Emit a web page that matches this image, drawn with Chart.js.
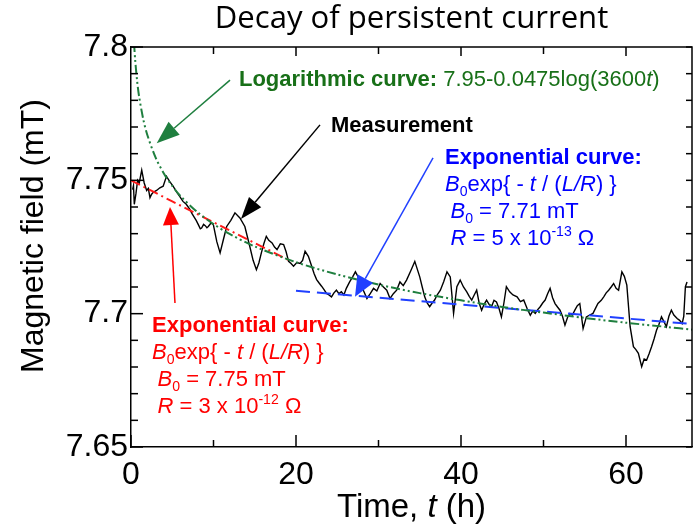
<!DOCTYPE html>
<html><head><meta charset="utf-8">
<script src="https://cdn.jsdelivr.net/npm/chart.js@4/dist/chart.umd.min.js"></script>
<style>html,body{margin:0;padding:0;background:#fff}canvas{display:block}</style>
</head><body>
<canvas id="c" width="693" height="526"></canvas>
<script>
// ---------- DATA ----------
const measTime = [0.2,0.3,0.4,0.6,0.8,1.0,1.3,1.6,1.9,2.1,2.3,2.5,2.7,3.1,3.5,3.9,4.3,4.7,5.1,5.5,5.9,6.3,6.7,7.15,7.4,7.6,7.9,8.16,8.4,8.56,8.8,9.0,9.2,9.37,9.7,9.98,10.4,10.8,11.2,11.6,12.1,12.6,13.2,13.8,14.4,14.8,15.2,15.5,15.8,16.1,16.4,16.7,17.1,17.4,17.7,18.1,18.5,18.8,19.1,19.4,19.7,20.1,20.5,20.8,21.1,21.5,21.9,22.2,22.5,22.8,23.1,23.4,23.7,24.0,24.3,24.6,24.9,25.2,25.5,25.8,26.1,26.5,26.9,27.2,27.5,27.8,28.2,28.6,29.0,29.4,29.8,30.2,30.6,31.0,31.4,31.8,32.2,32.6,33.0,33.4,33.9,34.4,35.0,35.3,35.6,35.9,36.2,36.5,36.8,37.1,37.5,37.9,38.3,38.7,39.1,39.5,39.9,40.3,40.7,41.0,41.3,41.6,41.9,42.2,42.5,42.8,43.1,43.4,43.7,44.0,44.3,44.6,44.9,45.2,45.5,45.9,46.3,46.8,47.2,47.6,48.0,48.4,48.7,49.0,49.3,49.6,49.9,50.2,50.5,50.8,51.1,51.4,51.7,52.0,52.3,52.6,52.9,53.2,53.5,53.8,54.1,54.4,54.8,55.2,55.6,56.0,56.3,56.6,57.0,57.3,57.6,57.9,58.2,58.5,58.8,59.1,59.5,59.8,60.1,60.5,60.9,61.2,61.5,61.9,62.2,62.5,62.8,63.1,63.4,63.7,64.0,64.3,64.6,64.9,65.2,65.5,65.8,66.2,66.5,66.8,67.0,67.2,67.4];
const measField = [7.7465,7.7480,7.7410,7.7450,7.7500,7.7490,7.7538,7.7490,7.7462,7.7470,7.7435,7.7448,7.7455,7.7462,7.7472,7.7478,7.7515,7.7495,7.7478,7.7458,7.7440,7.7421,7.7410,7.7390,7.7375,7.7365,7.7350,7.7334,7.7318,7.7321,7.7335,7.7330,7.7322,7.7327,7.7340,7.7334,7.7270,7.7228,7.7278,7.7327,7.7350,7.7378,7.7359,7.7327,7.7252,7.7200,7.7165,7.7190,7.7228,7.7262,7.7290,7.7275,7.7265,7.7250,7.7240,7.7262,7.7259,7.7232,7.7196,7.7188,7.7178,7.7192,7.7188,7.7200,7.7234,7.7215,7.7178,7.7150,7.7128,7.7115,7.7103,7.7090,7.7076,7.7070,7.7063,7.7078,7.7088,7.7075,7.7082,7.7070,7.7095,7.7119,7.7140,7.7157,7.7140,7.7126,7.7085,7.7057,7.7075,7.7095,7.7085,7.7113,7.7100,7.7088,7.7057,7.7075,7.7088,7.7119,7.7105,7.7126,7.7160,7.7196,7.7138,7.7100,7.7063,7.7040,7.7026,7.7040,7.7051,7.7070,7.7088,7.7120,7.7157,7.7138,7.7001,7.7101,7.7126,7.7100,7.7082,7.7065,7.7051,7.7070,7.7088,7.7040,7.7013,7.7035,7.7051,7.7035,7.7026,7.7050,7.7044,7.7020,7.6988,7.7040,7.7101,7.7082,7.7070,7.7063,7.7045,7.7051,7.7020,7.6994,7.7010,7.7001,7.7015,7.7026,7.7040,7.7051,7.7075,7.7095,7.7060,7.7038,7.7025,7.7013,7.6990,7.6957,7.6985,7.7001,7.6995,7.7013,7.7030,7.7038,7.6944,7.6988,7.6995,7.7001,7.7020,7.7038,7.7050,7.7063,7.7078,7.7088,7.7100,7.7113,7.7095,7.7088,7.7157,7.7140,7.7107,7.6951,7.6876,7.6865,7.6851,7.6801,7.6830,7.6826,7.6850,7.6876,7.6905,7.6938,7.6960,7.6988,7.6970,7.6951,7.6990,7.7013,7.6995,7.6982,7.6975,7.6963,7.6990,7.7101,7.7119];

const logTime  = [0.25,0.3,0.4,0.5,0.75,1,1.5,2,3,4,5,6,8,10,12,15,20,25,30,35,40,45,50,55,60,65,68];
const logField = [7.8097,7.8059,7.8000,7.7954,7.7870,7.7811,7.7727,7.7668,7.7584,7.7525,7.7479,7.7441,7.7382,7.7336,7.7298,7.7252,7.7193,7.7147,7.7109,7.7077,7.7050,7.7025,7.7004,7.6984,7.6966,7.6950,7.6940];

const redTime  = [0,5,10,15,19.5];
const redField = [7.75,7.7421,7.7343,7.7265,7.7195];

const blueTime  = [20,30,40,50,60,68];
const blueField = [7.7086,7.7060,7.7034,7.7008,7.6982,7.6961];

const xTickValues = [0,20,40,60];
const xTickLabels = ['0','20','40','60'];
const xMinorValues = [10,30,50];
const yTickValues = [7.65,7.7,7.75,7.8];
const yTickLabels = ['7.65','7.7','7.75','7.8'];
const yMinorValues = [7.66,7.67,7.68,7.69,7.71,7.72,7.73,7.74,7.76,7.77,7.78,7.79];

const titleText = 'Decay of persistent current';
const yTitleText = 'Magnetic field (mT)';

// ---------- styling / layout ----------
const SANS = '"Liberation Sans", Arial, sans-serif';
const TITLE_FAMILY = '"Open Sans", sans-serif';
const GREEN_LINE = '#1f7f3f', GREEN_TXT = '#187018';
const RED = '#ff0000', BLUE = '#0000ff', BLUE_LINE = '#2040ff';

const mctx = document.createElement('canvas').getContext('2d');
mctx.font = '100px ' + TITLE_FAMILY;
const titleSize = Math.round(100 * 393 / mctx.measureText(titleText).width * 10) / 10;
const titlePadTop = Math.max(0, 31.7 - 0.988 * titleSize);
const titlePadBottom = 47 - 1.2 * titleSize - titlePadTop;

function pts(xs, ys) { return xs.map((x, i) => ({x: x, y: ys[i]})); }

function drawRich(ctx, x, y, segs, size, color) {
  let cx = x;
  ctx.fillStyle = color;
  ctx.textBaseline = 'alphabetic';
  ctx.textAlign = 'left';
  for (const s of segs) {
    let fs = size, dy = 0;
    if (s.sub) { fs = size * 0.64; dy = size * 0.24; }
    if (s.sup) { fs = size * 0.64; dy = -size * 0.40; }
    ctx.font = (s.italic ? 'italic ' : '') + (s.bold ? 'bold ' : '') + fs + 'px ' + SANS;
    ctx.fillText(s.text, cx, y + dy);
    cx += ctx.measureText(s.text).width;
  }
  return cx - x;
}

function arrow(ctx, x1, y1, x2, y2, color, len, wid, lw) {
  const a = Math.atan2(y2 - y1, x2 - x1);
  const bx = x2 - len * Math.cos(a), by = y2 - len * Math.sin(a);
  ctx.strokeStyle = color; ctx.fillStyle = color; ctx.lineWidth = lw; ctx.setLineDash([]);
  ctx.beginPath(); ctx.moveTo(x1, y1); ctx.lineTo(bx, by); ctx.stroke();
  const px = Math.sin(a) * wid / 2, py = -Math.cos(a) * wid / 2;
  ctx.beginPath(); ctx.moveTo(x2, y2); ctx.lineTo(bx + px, by + py); ctx.lineTo(bx - px, by - py); ctx.closePath(); ctx.fill();
}

// annotation anchors in data coordinates (t, field)
const notes = {
  green: {t: 13.09, v: 7.7852},
  meas:  {t: 24.24, v: 7.7681},
  blue:  {t: 38.06, v: 7.7563},
  red:   {t: 2.55,  v: 7.6933}
};
const arrows = [
  {from: [12.0, 7.7876],  to: [3.115, 7.7639], color: GREEN_LINE, len: 23, wid: 17},
  {from: [22.91, 7.7708], to: [13.33, 7.7355], color: '#000',     len: 22, wid: 16},
  {from: [36.61, 7.7584], to: [27.15, 7.7063], color: BLUE_LINE,  len: 21, wid: 18},
  {from: [5.33, 7.7040],  to: [4.73, 7.7400],  color: RED,        len: 18, wid: 16}
];

const decor = {
  id: 'decor',
  afterDraw(chart) {
    const {ctx, chartArea: {left, right, top, bottom}, scales: {x, y}} = chart;
    ctx.save();
    ctx.strokeStyle = '#000'; ctx.lineWidth = 1.5; ctx.setLineDash([]);
    ctx.beginPath(); ctx.moveTo(left, top); ctx.lineTo(right, top); ctx.lineTo(right, bottom); ctx.stroke();
    const seg = (x1, y1, x2, y2) => { ctx.beginPath(); ctx.moveTo(x1, y1); ctx.lineTo(x2, y2); ctx.stroke(); };
    xTickValues.forEach(v => { const p = x.getPixelForValue(v); seg(p, bottom, p, bottom - 12); if (v > 0) seg(p, top, p, top + 9); });
    xMinorValues.forEach(v => { const p = x.getPixelForValue(v); seg(p, bottom, p, bottom - 7); seg(p, top, p, top + 7); });
    yTickValues.forEach(v => { const p = y.getPixelForValue(v); seg(left, p, left + 12, p); seg(right, p, right - 6, p); });
    yMinorValues.forEach(v => { const p = y.getPixelForValue(v); seg(left, p, left + 7, p); seg(right, p, right - 6, p); });

    arrows.forEach(a => arrow(ctx, x.getPixelForValue(a.from[0]), y.getPixelForValue(a.from[1]),
      x.getPixelForValue(a.to[0]), y.getPixelForValue(a.to[1]), a.color, a.len, a.wid, 1.5));

    const FS = 22, LH = 27;
    let gx = x.getPixelForValue(notes.green.t), gy = y.getPixelForValue(notes.green.v);
    drawRich(ctx, gx, gy, [{text: 'Logarithmic curve: ', bold: true}, {text: '7.95-0.0475log(3600'}, {text: 't', italic: true}, {text: ')'}], FS, GREEN_TXT);
    drawRich(ctx, x.getPixelForValue(notes.meas.t), y.getPixelForValue(notes.meas.v), [{text: 'Measurement', bold: true}], FS, '#000');
    let bx = x.getPixelForValue(notes.blue.t), by = y.getPixelForValue(notes.blue.v);
    drawRich(ctx, bx, by, [{text: 'Exponential curve:', bold: true}], FS, BLUE);
    drawRich(ctx, bx, by + LH, [{text: 'B', italic: true}, {text: '0', sub: true}, {text: 'exp{ - '}, {text: 't', italic: true}, {text: ' / ('}, {text: 'L/R', italic: true}, {text: ') }'}], FS, BLUE);
    drawRich(ctx, bx + 5.5, by + 2 * LH, [{text: 'B', italic: true}, {text: '0', sub: true}, {text: ' = 7.71 mT'}], FS, BLUE);
    drawRich(ctx, bx + 5.5, by + 3 * LH, [{text: 'R', italic: true}, {text: ' = 5 x 10'}, {text: '-13', sup: true}, {text: ' \u03A9'}], FS, BLUE);
    let rx = x.getPixelForValue(notes.red.t), ry = y.getPixelForValue(notes.red.v);
    drawRich(ctx, rx, ry, [{text: 'Exponential curve:', bold: true}], FS, RED);
    drawRich(ctx, rx, ry + LH, [{text: 'B', italic: true}, {text: '0', sub: true}, {text: 'exp{ - '}, {text: 't', italic: true}, {text: ' / ('}, {text: 'L/R', italic: true}, {text: ') }'}], FS, RED);
    drawRich(ctx, rx + 5.5, ry + 2 * LH, [{text: 'B', italic: true}, {text: '0', sub: true}, {text: ' = 7.75 mT'}], FS, RED);
    drawRich(ctx, rx + 5.5, ry + 3 * LH, [{text: 'R', italic: true}, {text: ' = 3 x 10'}, {text: '-12', sup: true}, {text: ' \u03A9'}], FS, RED);

    ctx.fillStyle = '#000';
    ctx.save();
    ctx.translate(34, 236); ctx.rotate(-Math.PI / 2);
    ctx.font = '32px ' + SANS; ctx.textAlign = 'center'; ctx.textBaseline = 'middle';
    ctx.fillText(yTitleText, 0, 0);
    ctx.restore();
    const xSegs = [{text: 'Time, '}, {text: 't', italic: true}, {text: ' (h)'}];
    let w = 0;
    xSegs.forEach(s => { ctx.font = (s.italic ? 'italic ' : '') + '33px ' + SANS; w += ctx.measureText(s.text).width; });
    drawRich(ctx, (left + right) / 2 - w / 2, 517, xSegs, 33, '#000');
    ctx.restore();
  }
};

new Chart(document.getElementById('c'), {
  type: 'line',
  data: {
    datasets: [
      {label: 'Logarithmic curve', data: pts(logTime, logField), borderColor: GREEN_LINE, borderWidth: 2, borderDash: [9, 3, 2, 3, 2, 3], pointRadius: 0, tension: 0.3},
      {label: 'Exponential (red)', data: pts(redTime, redField), borderColor: '#ff1a1a', borderWidth: 2, borderDash: [10, 4, 2, 4], pointRadius: 0},
      {label: 'Exponential (blue)', data: pts(blueTime, blueField), borderColor: BLUE_LINE, borderWidth: 2, borderDash: [14, 7], pointRadius: 0},
      {label: 'Measurement', data: pts(measTime, measField), borderColor: '#000', borderWidth: 1.4, pointRadius: 0, tension: 0}
    ]
  },
  options: {
    responsive: false, animation: false, devicePixelRatio: 1,
    layout: {padding: {left: 0, right: 1, top: 0, bottom: 0}},
    plugins: {
      legend: {display: false}, tooltip: {enabled: false},
      title: {display: true, text: titleText, color: '#000', fullSize: false,
        font: {family: TITLE_FAMILY, size: titleSize, weight: 'normal', lineHeight: 1.2},
        padding: {top: titlePadTop, bottom: titlePadBottom}}
    },
    scales: {
      x: {type: 'linear', min: 0, max: 68,
        grid: {display: false, drawTicks: false},
        border: {display: true, color: '#000', width: 1.5},
        afterBuildTicks: s => { s.ticks = xTickValues.map(v => ({value: v})); },
        afterFit: s => { s.height = 79; },
        ticks: {color: '#000', font: {family: SANS, size: 32}, padding: 9, maxRotation: 0, autoSkip: false,
          callback: (v) => { const i = xTickValues.indexOf(v); return i >= 0 ? xTickLabels[i] : ''; }}
      },
      y: {type: 'linear', min: 7.65, max: 7.8,
        grid: {display: false, drawTicks: false},
        border: {display: true, color: '#000', width: 1.5},
        afterBuildTicks: s => { s.ticks = yTickValues.map(v => ({value: v})); },
        afterFit: s => { s.width = 131; },
        ticks: {color: '#000', font: {family: SANS, size: 32}, padding: 3, autoSkip: false,
          callback: (v) => { const i = yTickValues.findIndex(t => Math.abs(t - v) < 1e-9); return i >= 0 ? yTickLabels[i] : ''; }}
      }
    }
  },
  plugins: [decor]
});
</script>
</body></html>
